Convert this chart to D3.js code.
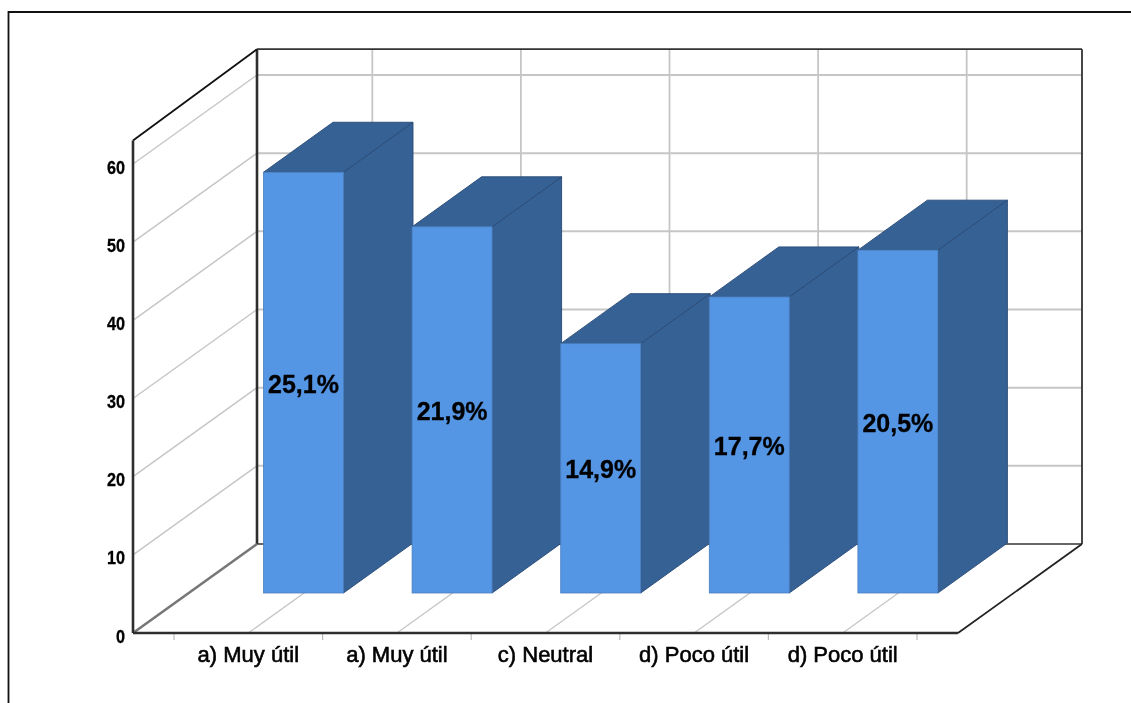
<!DOCTYPE html>
<html><head><meta charset="utf-8">
<script src="https://cdn.jsdelivr.net/npm/d3@7/dist/d3.min.js"></script>
<style>html,body{margin:0;padding:0;background:#fff;overflow:hidden}svg{display:block;filter:blur(0.35px)}text{font-family:"Liberation Sans",Arial,sans-serif;font-weight:bold;fill:#000}</style>
</head><body><svg id="c" width="1131" height="703"></svg>
<script>
const categories = ["a) Muy útil","a) Muy útil","c) Neutral","d) Poco útil","d) Poco útil"];
const counts = [54,47,32,38,44];
const percentLabels = ["25,1%","21,9%","14,9%","17,7%","20,5%"];
const yTicks = [0,10,20,30,40,50,60];
const boxTopBack = 63.3, boxTopFront = 63;

const svg = d3.select("#c");
const y = d3.scaleLinear().domain([0,60]).range([633,164]);
const x = d3.scaleBand().domain(d3.range(categories.length)).range([174,917]);
const depth = d3.scaleLinear().domain([0,1]).range([0,124]);
const lift = d3.scaleLinear().domain([0,1]).range([0,-89]);
const P = (px,val,d)=>[px+depth(d), y(val)+lift(d)];
const pts = a=>a.map(p=>p.join(",")).join(" ");
const line=(a,b,stroke,w)=>svg.append("line").attr("x1",a[0]).attr("y1",a[1]).attr("x2",b[0]).attr("y2",b[1]).attr("stroke",stroke).attr("stroke-width",w);
const left=133, right=958;
const gridC="#c6c6c6", axisC="#2e2e2e";

// frame
svg.append("path").attr("d","M8.5,703V12H1131").attr("fill","none").attr("stroke","#111").attr("stroke-width",1.8);

// back wall gridlines
yTicks.slice(1).forEach(t=>{
  line(P(left,t,1),P(right,t,1),gridC,2);
  line(P(left,t,0),P(left,t,1),gridC,1.5);
});
// vertical back gridlines and floor lines
d3.range(categories.length).forEach(i=>{
  const fx = x(i)+x.step()/2;
  line(P(fx,0,1),P(fx,boxTopBack,1),gridC,1.8);
  line(P(fx,0,0),P(fx,0,1),gridC,1.3);
});
// ticks below front
d3.range(categories.length+1).forEach(i=>{
  const t = i<categories.length ? x(i) : x(i-1)+x.step();
  line([t,633],[t,640],"#bbb",1.2);
});
// box edges
line(P(left,0,1),P(right,0,1),"#666",2);
line(P(left,boxTopBack,1),P(right,boxTopBack,1),"#333",1.8);
line(P(left,0,1),P(left,boxTopBack,1),axisC,2.6);
line(P(right,0,1),P(right,boxTopBack,1),"#333",1.8);
line(P(left,0,0),P(left,0,1),"#777",2.6);
line(P(left,boxTopFront,0),P(left,boxTopBack,1),"#111",1.8);
line(P(left,0,0),P(left,boxTopFront,0),axisC,2.6);
line(P(left,0,0),P(right,0,0),axisC,2.6);
line(P(right,0,0),P(right,0,1),"#222",1.8);

// bars
const barW=80, dx=69.5, dy=-50;
const front="#5495e4", dark="#366195";
const yb = d3.scaleLinear().domain([0,60]).range([593,125.5]);
categories.forEach((c,i)=>{
  const xl = x(i)+89.5, xr=xl+barW;
  const g=svg.append("g");
  const b=yb(0), t=yb(counts[i]);
  g.append("polygon").attr("points",pts([[xr,b],[xr,t],[xr+dx,t+dy],[xr+dx,b+dy]])).attr("fill",dark).attr("stroke","#284a75").attr("stroke-width",.9);
  g.append("polygon").attr("points",pts([[xl,t],[xr,t],[xr+dx,t+dy],[xl+dx,t+dy]])).attr("fill",dark).attr("stroke","#284a75").attr("stroke-width",.9);
  g.append("rect").attr("x",xl).attr("y",t).attr("width",barW).attr("height",b-t).attr("fill",front).attr("stroke","#4a7fbf").attr("stroke-width",.8);
  g.append("text").attr("x",xl+barW/2).attr("y",(t+b)/2+10).attr("text-anchor","middle").attr("font-size",25).style("stroke","#000").style("stroke-width",".3").text(percentLabels[i]);
});

// axis text
yTicks.forEach(t=>svg.append("text").attr("transform",`translate(125,${y(t)+9.5}) scale(.9,1)`).attr("text-anchor","end").attr("font-size",18).style("stroke","#000").style("stroke-width",".3").text(t));
categories.forEach((c,i)=>svg.append("text").attr("x",x(i)+x.step()/2).attr("y",661.5).attr("text-anchor","middle").attr("font-size",22).style("font-weight","normal").style("stroke","#000").style("stroke-width",".6").text(c));
</script></body></html>
